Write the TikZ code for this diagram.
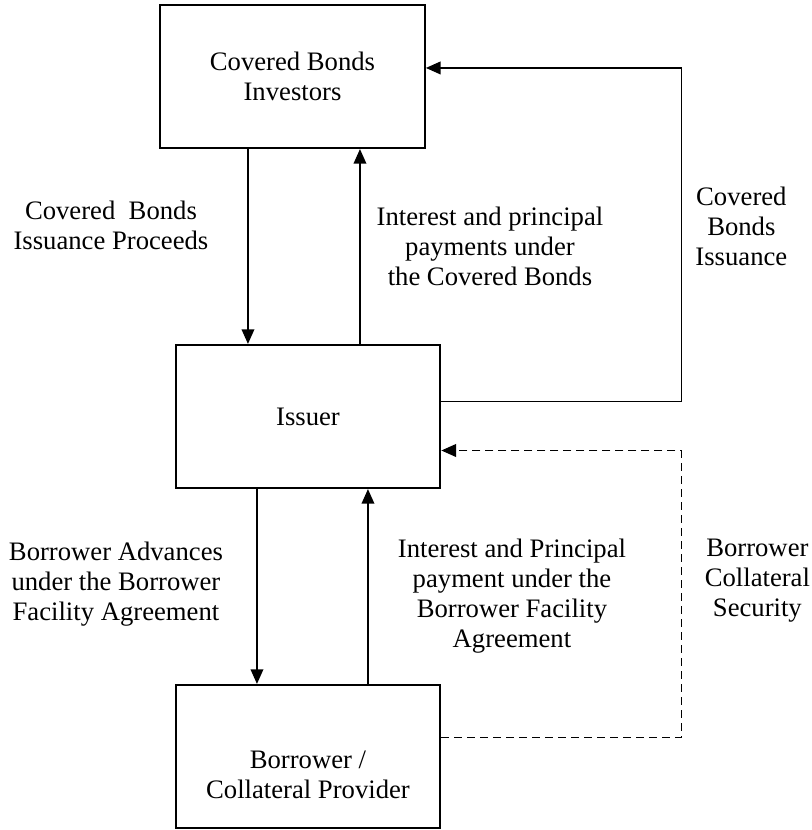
\documentclass[tikz,border=0pt]{standalone}
\usepackage{fontspec}
\setmainfont{Liberation Serif}
\usetikzlibrary{arrows.meta,positioning}

\begin{document}
\begin{tikzpicture}[node distance={255pt},
	box/.style = {draw, line width=1.6pt, minimum width=198.5pt, minimum height=107.25pt, align=center, font=\fontsize{20}{22.5}\selectfont},
	lbl/.style = {align=center, font=\fontsize{20}{22.5}\selectfont},
	arr/.style = {line width=1.2pt, -{Triangle[length=11pt, width=9.5pt]}},
	dashline/.style = {dash pattern=on 6pt off 3.75pt}]
	\useasboundingbox (-219.375pt,57.375pt) rectangle (389.625pt,-565.125pt);
	\node[box] (investors) {Covered Bonds\\Investors};
	\node[box] [below of=investors, xshift=11.6pt] (issuer) {Issuer};
	\node[box] [below of=issuer, label={[lbl, name=borrowertext, yshift=-13.5pt]center:{Borrower /\\Collateral Provider}}] (borrower) {};
	\coordinate (loopr) at ([xshift=180pt]issuer.east);
	\coordinate (intop) at ([yshift=6.4pt]investors.east);
	\coordinate (inbot) at ([yshift=-25.5pt]issuer.east);
	\draw[arr] ([xshift=-33.4pt]investors.south) -- ([xshift=-33.4pt]investors.south |- issuer.north) node [lbl, pos=0.39, xshift=-102.75pt] (proceeds) {Covered\ \ Bonds\\Issuance Proceeds};
	\draw[arr] ([xshift=39pt]issuer.north) -- ([xshift=39pt]issuer.north |- investors.south) node [lbl, pos=0.5, xshift=97.5pt] (payments) {Interest and principal\\payments under\\the Covered Bonds};
	\draw[arr] ([yshift=11.25pt]issuer.east) -| node [lbl, pos=0.762, xshift=45pt] (issuance) {Covered\\Bonds\\Issuance} (loopr |- intop) -- (intop);
	\draw[arr] ([xshift=-38.25pt]issuer.south) -- ([xshift=-38.25pt]issuer.south |- borrower.north) node [lbl, pos=0.487, xshift=-105.75pt] (advances) {Borrower Advances\\under the Borrower\\Facility Agreement};
	\draw[arr] ([xshift=45pt]borrower.north) -- ([xshift=45pt]borrower.north |- issuer.south) node [lbl, pos=0.452, xshift=108pt] (repayments) {Interest and Principal\\payment under the\\Borrower Facility\\Agreement};
	\draw[arr, dashline] ([yshift=14.25pt]borrower.east) -| node [lbl, pos=0.774, xshift=57pt] (security) {Borrower\\Collateral\\Security} (loopr |- inbot) -- (inbot);
\end{tikzpicture}
\end{document}
